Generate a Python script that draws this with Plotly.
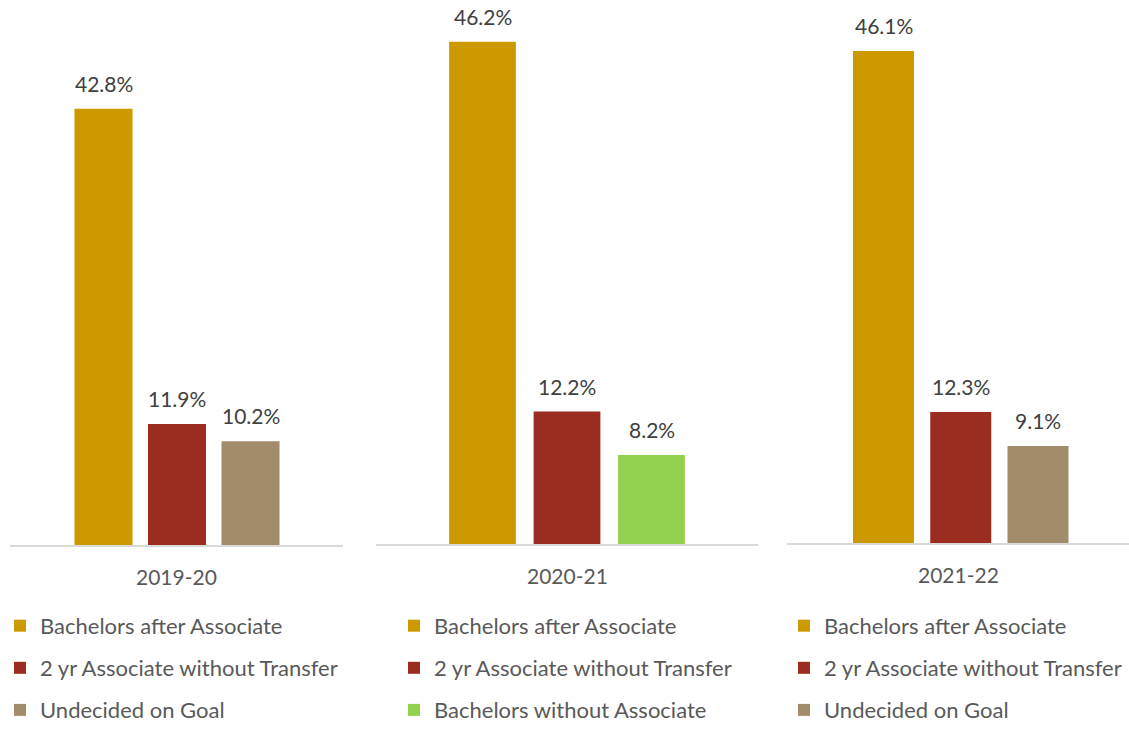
import plotly.graph_objects as go

# ---- data ----
periods = ["2019-20", "2020-21", "2021-22"]
series_2019 = ["Bachelors after Associate", "2 yr Associate without Transfer", "Undecided on Goal"]
values_2019 = [42.8, 11.9, 10.2]
series_2020 = ["Bachelors after Associate", "2 yr Associate without Transfer", "Bachelors without Associate"]
values_2020 = [46.2, 12.2, 8.2]
series_2021 = ["Bachelors after Associate", "2 yr Associate without Transfer", "Undecided on Goal"]
values_2021 = [46.1, 12.3, 9.1]

colors = {
    "Bachelors after Associate": "#CC9900",
    "2 yr Associate without Transfer": "#9B2D20",
    "Undecided on Goal": "#A38C6B",
    "Bachelors without Associate": "#92D050",
}

W, H = 1129, 731
K = 0.985  # vertical factor observed between page pixels and the photographed picture
FONT = "Lato"
LABEL_COLOR = "#404040"
TEXT_COLOR = "#595959"

# panel layout in target pixels: axis left/right, baseline y, first bar centre, bar pitch, px per %
panels = [
    dict(left=10, right=343, base=546, c0=103.5, pitch=73.5, scale=10.21, leg_x=0),
    dict(left=376, right=758, base=545, c0=482.5, pitch=84.5, scale=10.89, leg_x=394),
    dict(left=787, right=1129, base=544, c0=883.5, pitch=77.25, scale=10.69, leg_x=784),
]
YMAX = 50
LEG_TOP = 615  # page px

data = [(series_2019, values_2019), (series_2020, values_2020), (series_2021, values_2021)]

fig = go.Figure()
annotations = []
layout_axes = {}
for i, (p, (names, vals)) in enumerate(zip(panels, data)):
    n = i + 1
    xa = "x" if n == 1 else f"x{n}"
    ya = "y" if n == 1 else f"y{n}"
    lg = "legend" if n == 1 else f"legend{n}"
    for k, (name, v) in enumerate(zip(names, vals)):
        fig.add_trace(go.Bar(
            x=[name], y=[v], name=name, xaxis=xa, yaxis=ya, legend=lg,
            legendgroup=f"{n}-{k}",
            marker=dict(color=colors[name], line=dict(width=0)),
            hoverinfo="skip", cliponaxis=False,
        ))
        annotations.append(dict(
            x=name, y=v, xref=xa, yref=ya, text=f"{v:.1f}%", showarrow=False,
            yanchor="bottom", yshift=11,
            font=dict(family=FONT, size=21, color=LABEL_COLOR),
        ))
    annotations.append(dict(
        x=0.5, y=0, xref=f"{xa} domain", yref=f"{ya} domain", text=periods[i],
        showarrow=False, yanchor="middle", yshift=-31.5,
        font=dict(family=FONT, size=21, color=TEXT_COLOR),
    ))
    rng = [-(p["c0"] - p["left"]) / p["pitch"],
           (p["right"] - p["c0"]) / p["pitch"]]
    base_pg = p["base"] / K
    top_pg = base_pg - YMAX * p["scale"] / K
    xkey = "xaxis" if n == 1 else f"xaxis{n}"
    ykey = "yaxis" if n == 1 else f"yaxis{n}"
    layout_axes[xkey] = dict(
        domain=[p["left"] / W, min(p["right"] / W, 1)], anchor=ya, range=rng,
        type="category", showline=True, linecolor="#D9D9D9", linewidth=1.5,
        showticklabels=False, ticks="", showgrid=False, zeroline=False, fixedrange=True,
    )
    layout_axes[ykey] = dict(
        domain=[1 - base_pg / H, min(1 - top_pg / H, 1)], anchor=xa,
        range=[0, YMAX], visible=False, fixedrange=True,
    )
    layout_axes[lg] = dict(
        x=p["leg_x"] / W, y=1 - LEG_TOP / H, xanchor="left", yanchor="top",
        orientation="v", traceorder="grouped", tracegroupgap=10.5,
        font=dict(family=FONT, size=22, color=TEXT_COLOR),
        bgcolor="rgba(0,0,0,0)", itemclick=False, itemdoubleclick=False,
    )

fig.update_layout(
    width=W, height=H, autosize=False,
    margin=dict(l=0, r=0, t=0, b=0),
    paper_bgcolor="white", plot_bgcolor="white",
    barmode="overlay", bargap=0.21,
    showlegend=True,
    annotations=annotations,
    font=dict(family=FONT, color=TEXT_COLOR),
    **layout_axes,
)

fig.write_html(
    "out.html",
    config={"displayModeBar": False},
    post_script=(
        "document.documentElement.style.margin='0';document.body.style.margin='0';"
        "document.documentElement.style.overflow='hidden';document.body.style.overflow='hidden';"
    ),
)
